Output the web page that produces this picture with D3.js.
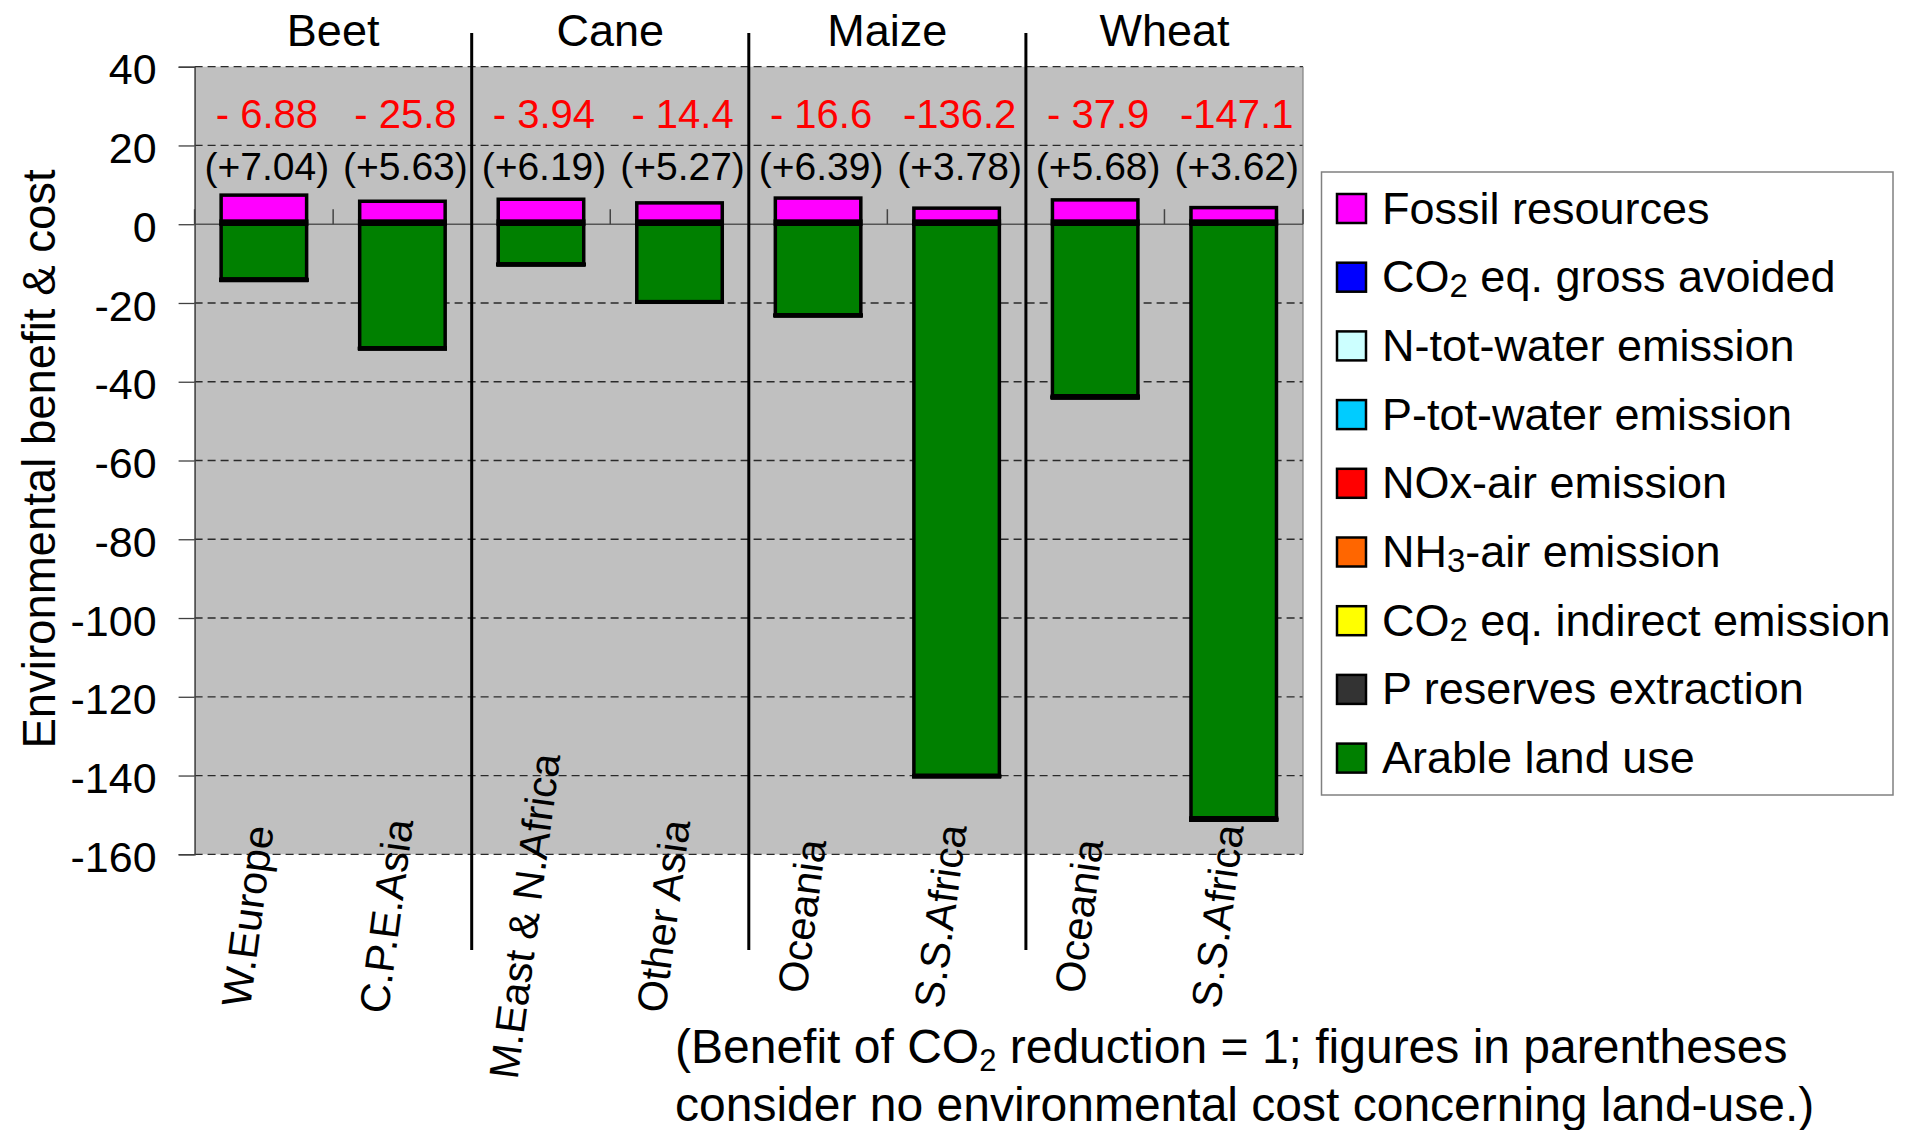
<!DOCTYPE html>
<html>
<head>
<meta charset="utf-8">
<script src="https://cdn.jsdelivr.net/npm/d3@7"></script>
<style>
  html, body { margin: 0; padding: 0; background: #ffffff; }
  svg { display: block; font-family: "Liberation Sans", Arial, Helvetica, sans-serif; }
</style>
</head>
<body>
<svg id="chart" width="1914" height="1130"></svg>
<script>
// ---- data -------------------------------------------------------------
const crops = ["Beet", "Cane", "Maize", "Wheat"];
const regions = ["W.Europe", "C.P.E.Asia", "M.East & N.Africa", "Other Asia",
                 "Oceania", "S.S.Africa", "Oceania", "S.S.Africa"];
const cropOfRegion = [0, 0, 1, 1, 2, 2, 3, 3];

// net balance including land use (red) and excluding land use (parentheses)
const netLabels    = ["- 6.88", "- 25.8", "- 3.94", "- 14.4", "- 16.6", "-136.2", "- 37.9", "-147.1"];
const noLandLabels = ["(+7.04)", "(+5.63)", "(+6.19)", "(+5.27)", "(+6.39)", "(+3.78)", "(+5.68)", "(+3.62)"];

// stacked components (benefit of CO2 reduction = 1)
const fossilResources   = [6.59, 5.03, 5.54, 4.62, 5.84, 3.28, 5.38, 3.42];
const co2GrossAvoided   = [0.80, 0.80, 0.80, 0.80, 0.80, 0.80, 0.80, 0.80];
const nTotWater         = [-0.02, -0.02, -0.01, -0.02, -0.01, -0.02, -0.02, -0.03];
const pTotWater         = [-0.01, -0.01, -0.01, -0.01, -0.01, -0.01, -0.01, -0.02];
const noxAir            = [-0.03, -0.02, -0.02, -0.02, -0.03, -0.03, -0.04, -0.05];
const nh3Air            = [-0.05, -0.03, -0.02, -0.02, -0.04, -0.05, -0.08, -0.10];
const co2Indirect       = [-0.06, -0.04, -0.03, -0.03, -0.05, -0.06, -0.10, -0.12];
const pReserves         = [-0.18, -0.08, -0.06, -0.05, -0.11, -0.13, -0.25, -0.28];
const arableLandUse     = [-13.92, -31.43, -10.13, -19.67, -22.99, -139.98, -43.58, -150.72];

const yTicks = [40, 20, 0, -20, -40, -60, -80, -100, -120, -140, -160];

// series in stacking order (first = nearest the zero line)
const series = [
  { key: "arable",  values: arableLandUse,   color: "#008000" },
  { key: "pRes",    values: pReserves,       color: "#333333" },
  { key: "co2Ind",  values: co2Indirect,     color: "#FFFF00" },
  { key: "nh3",     values: nh3Air,          color: "#FF6600" },
  { key: "nox",     values: noxAir,          color: "#FF0000" },
  { key: "pTot",    values: pTotWater,       color: "#00CCFF" },
  { key: "nTot",    values: nTotWater,       color: "#CCFFFF" },
  { key: "co2Av",   values: co2GrossAvoided, color: "#0000FF" },
  { key: "fossil",  values: fossilResources, color: "#FF00FF" }
];

// legend entries, top to bottom; parts marked "sub" are subscripts
const legendEntries = [
  { key: "fossil", parts: [["Fossil resources", ""]] },
  { key: "co2Av",  parts: [["CO", ""], ["2", "sub"], [" eq. gross avoided", ""]] },
  { key: "nTot",   parts: [["N-tot-water emission", ""]] },
  { key: "pTot",   parts: [["P-tot-water emission", ""]] },
  { key: "nox",    parts: [["NOx-air emission", ""]] },
  { key: "nh3",    parts: [["NH", ""], ["3", "sub"], ["-air emission", ""]] },
  { key: "co2Ind", parts: [["CO", ""], ["2", "sub"], [" eq. indirect emission", ""]] },
  { key: "pRes",   parts: [["P reserves extraction", ""]] },
  { key: "arable", parts: [["Arable land use", ""]] }
];

// ---- layout -----------------------------------------------------------
const plotLeft = 194.6, plotRight = 1303, plotTop = 66.7, plotBottom = 854.3;

const svg = d3.select("#chart");

const x = d3.scaleBand()
  .domain(d3.range(regions.length))
  .range([plotLeft, plotRight])
  .paddingInner(0.383)
  .paddingOuter(0.1915);

const y = d3.scaleLinear().domain([-160, 40]).range([plotBottom, plotTop]);

const slotEdge = k => x.range()[0] + k * x.step();
const bandMid = i => x(i) + x.bandwidth() / 2;

// plot background
svg.append("rect")
  .attr("x", plotLeft).attr("y", plotTop)
  .attr("width", plotRight - plotLeft).attr("height", plotBottom - plotTop)
  .attr("fill", "#C0C0C0");

// dashed gridlines
svg.append("g").selectAll("line")
  .data(yTicks.filter(v => v !== 0))
  .join("line")
  .attr("x1", plotLeft).attr("x2", plotRight)
  .attr("y1", d => y(d)).attr("y2", d => y(d))
  .attr("stroke", "#2a2a2a").attr("stroke-width", 1.3)
  .attr("stroke-dasharray", "8,5");

// right border of the plot area
svg.append("line")
  .attr("x1", plotRight).attr("x2", plotRight)
  .attr("y1", plotTop).attr("y2", plotBottom)
  .attr("stroke", "#808080").attr("stroke-width", 1.2);

// category axis along zero, with ticks pointing up
svg.append("line")
  .attr("x1", plotLeft).attr("x2", plotRight)
  .attr("y1", y(0)).attr("y2", y(0))
  .attr("stroke", "#555555").attr("stroke-width", 1.5);
svg.append("g").selectAll("line")
  .data(d3.range(regions.length + 1))
  .join("line")
  .attr("x1", k => slotEdge(k)).attr("x2", k => slotEdge(k))
  .attr("y1", y(0) - 15).attr("y2", y(0))
  .attr("stroke", "#444444").attr("stroke-width", 1.5);

// value axis (plain hyphen for negatives)
const yAxis = d3.axisLeft(y).tickValues(yTicks).tickSize(16).tickPadding(22).tickFormat(d => String(d));
const gy = svg.append("g").attr("transform", `translate(${plotLeft},0)`).call(yAxis);
gy.select(".domain").attr("stroke", "#404040").attr("stroke-width", 1.5);
gy.selectAll(".tick line").attr("stroke", "#404040").attr("stroke-width", 1.3);
gy.selectAll(".tick text")
  .attr("font-size", 43).attr("fill", "#000").attr("dy", "0.4em")
  .attr("font-family", "Liberation Sans, Arial, sans-serif");

// stacked bars
const rows = d3.range(regions.length).map(i => {
  const r = { idx: i };
  series.forEach(s => { r[s.key] = s.values[i]; });
  return r;
});
const stacked = d3.stack()
  .keys(series.map(s => s.key))
  .offset(d3.stackOffsetDiverging)(rows);
const colorOf = Object.fromEntries(series.map(s => [s.key, s.color]));

svg.append("g").selectAll("g")
  .data(stacked)
  .join("g")
  .attr("fill", d => colorOf[d.key])
  .selectAll("rect")
  .data(d => d)
  .join("rect")
  .attr("x", d => x(d.data.idx))
  .attr("width", x.bandwidth())
  .attr("y", d => y(Math.max(d[0], d[1])))
  .attr("height", d => Math.abs(y(d[0]) - y(d[1])))
  .attr("stroke", "#000")
  .attr("stroke-width", 3.5);

// crop dividers
svg.append("g").selectAll("line")
  .data([2, 4, 6])
  .join("line")
  .attr("x1", k => slotEdge(k)).attr("x2", k => slotEdge(k))
  .attr("y1", 33).attr("y2", 950)
  .attr("stroke", "#000").attr("stroke-width", 3);

// crop titles
svg.append("g").selectAll("text")
  .data(crops)
  .join("text")
  .attr("x", (d, g) => (slotEdge(2 * g) + slotEdge(2 * g + 2)) / 2)
  .attr("y", 45.7)
  .attr("text-anchor", "middle")
  .attr("font-size", 45)
  .text(d => d);

// net values
svg.append("g").selectAll("text")
  .data(netLabels)
  .join("text")
  .attr("x", (d, i) => bandMid(i) + 3)
  .attr("y", 128.3)
  .attr("text-anchor", "middle")
  .attr("font-size", 40)
  .attr("fill", "#FF0000")
  .attr("xml:space", "preserve")
  .text(d => d);

svg.append("g").selectAll("text")
  .data(noLandLabels)
  .join("text")
  .attr("x", (d, i) => bandMid(i) + 3)
  .attr("y", 180)
  .attr("text-anchor", "middle")
  .attr("font-size", 39)
  .attr("fill", "#000")
  .text(d => d);

// region labels, steeply rotated
svg.append("g").selectAll("text")
  .data(regions)
  .join("text")
  .attr("transform", (d, i) => `translate(${bandMid(i) - 2},918) rotate(-82.5)`)
  .attr("text-anchor", "middle")
  .attr("font-size", 41.5)
  .text(d => d);

// value axis title
svg.append("text")
  .attr("transform", "translate(55,459) rotate(-90)")
  .attr("text-anchor", "middle")
  .attr("font-size", 45.5)
  .text("Environmental benefit & cost");

// legend
const legend = svg.append("g");
legend.append("rect")
  .attr("x", 1321.5).attr("y", 172)
  .attr("width", 571.5).attr("height", 623)
  .attr("fill", "#fff").attr("stroke", "#808080").attr("stroke-width", 1.5);

const rowY = i => 208.5 + i * 68.7;
const items = legend.selectAll("g.item")
  .data(legendEntries)
  .join("g").attr("class", "item");
items.append("rect")
  .attr("x", 1337).attr("y", (d, i) => rowY(i) - 14.5)
  .attr("width", 29).attr("height", 29)
  .attr("fill", d => colorOf[d.key])
  .attr("stroke", "#000").attr("stroke-width", 2.5);
items.append("text")
  .attr("x", 1382).attr("y", (d, i) => rowY(i) + 15)
  .attr("font-size", 45)
  .attr("xml:space", "preserve")
  .each(function (d) {
    const t = d3.select(this);
    d.parts.forEach(([str, kind], j) => {
      const sp = t.append("tspan").text(str);
      if (kind === "sub") {
        sp.attr("font-size", 33).attr("dy", 5);
      } else if (j > 0 && d.parts[j - 1][1] === "sub") {
        sp.attr("dy", -5);
      }
    });
  });

// footnote
const note = svg.append("text")
  .attr("font-size", 48)
  .attr("xml:space", "preserve");
const l1 = note.append("tspan").attr("x", 675).attr("y", 1063);
l1.append("tspan").text("(Benefit of CO");
l1.append("tspan").attr("font-size", 31).attr("dy", 8).text("2");
l1.append("tspan").attr("dy", -8).text(" reduction = 1; figures in parentheses");
note.append("tspan").attr("x", 675).attr("y", 1121)
  .text("consider no environmental cost concerning land-use.)");
</script>
</body>
</html>
